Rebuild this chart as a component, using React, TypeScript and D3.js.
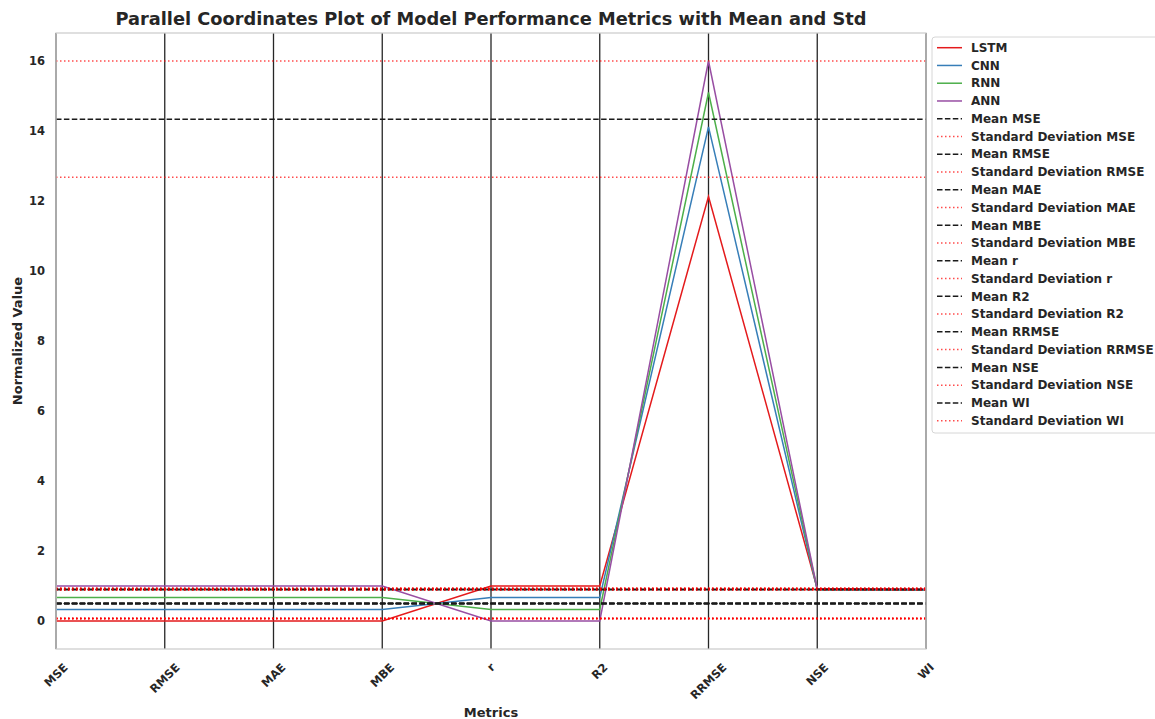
import { useEffect, useRef } from 'react';
import * as d3 from 'd3';

// metric names along x
const metrics = ['MSE', 'RMSE', 'MAE', 'MBE', 'r', 'R2', 'RRMSE', 'NSE', 'WI'];
const models = ['LSTM', 'CNN', 'RNN', 'ANN'];
const modelColors = ['#e41a1c', '#377eb8', '#4daf4a', '#984ea3'];

// normalized values per model (one per metric)
const lstmValues = [0, 0, 0, 0, 1, 1, 12.13, 0.93, 0.91];
const cnnValues = [0.33, 0.33, 0.33, 0.33, 0.67, 0.67, 14.12, 0.89, 0.88];
const rnnValues = [0.67, 0.67, 0.67, 0.67, 0.33, 0.33, 15.1, 0.9, 0.89];
const annValues = [1, 1, 1, 1, 0, 0, 16.0, 0.91, 0.9];

const yTicks = [0, 2, 4, 6, 8, 10, 12, 14, 16];

const W = 1155;
const H = 719;
const font = 'DejaVu Sans, sans-serif';
const textColor = '#262626';

export default function App() {
  const svgRef = useRef<SVGSVGElement>(null);

  useEffect(() => {
    if (!svgRef.current) return;
    const svg = d3.select(svgRef.current);
    svg.selectAll('*').remove();

    const margin = { top: 33, right: 229, bottom: 70, left: 56 };
    const plotW = W - margin.left - margin.right;
    const plotH = H - margin.top - margin.bottom;

    const series = [lstmValues, cnnValues, rnnValues, annValues];

    // mean and sample std for each metric
    const stats = metrics.map((m, i) => {
      const col = series.map(s => s[i]);
      return { name: m, mean: d3.mean(col) || 0, std: d3.deviation(col) || 0 };
    });

    const x = d3.scalePoint<string>().domain(metrics).range([0, plotW]);
    const y = d3.scaleLinear().domain([-0.8, 16.8]).range([plotH, 0]);

    svg.append('rect').attr('width', W).attr('height', H).attr('fill', '#ffffff');

    const g = svg.append('g').attr('transform', `translate(${margin.left},${margin.top})`);

    // vertical axis lines
    g.selectAll('.vline')
      .data(metrics)
      .enter()
      .append('line')
      .attr('x1', d => x(d) || 0)
      .attr('x2', d => x(d) || 0)
      .attr('y1', 0)
      .attr('y2', plotH)
      .attr('stroke', '#262626')
      .attr('stroke-width', 1.3);

    // model lines
    const line = d3.line<number>()
      .x((d, i) => x(metrics[i]) || 0)
      .y(d => y(d));

    series.forEach((s, k) => {
      g.append('path')
        .datum(s)
        .attr('fill', 'none')
        .attr('stroke', modelColors[k])
        .attr('stroke-width', 1.5)
        .attr('d', line);
    });

    // mean / std reference lines
    stats.forEach(st => {
      g.append('line')
        .attr('x1', 0).attr('x2', plotW)
        .attr('y1', y(st.mean)).attr('y2', y(st.mean))
        .attr('stroke', '#1a1a1a')
        .attr('stroke-width', 1.5)
        .attr('stroke-dasharray', '5.5,2.4');
      [st.mean + st.std, st.mean - st.std].forEach(v => {
        g.append('line')
          .attr('x1', 0).attr('x2', plotW)
          .attr('y1', y(v)).attr('y2', y(v))
          .attr('stroke', '#ff0000')
          .attr('stroke-opacity', 0.7)
          .attr('stroke-width', 1.5)
          .attr('stroke-dasharray', '1.5,2.5');
      });
    });

    // spines
    g.append('rect')
      .attr('width', plotW)
      .attr('height', plotH)
      .attr('fill', 'none')
      .attr('stroke', '#cccccc')
      .attr('stroke-width', 1.25);

    // y tick labels
    g.selectAll('.ytick')
      .data(yTicks)
      .enter()
      .append('text')
      .attr('x', -11)
      .attr('y', d => y(d))
      .attr('dy', '0.35em')
      .attr('text-anchor', 'end')
      .style('font-family', font)
      .style('font-size', '11.5px')
      .style('font-weight', 'bold')
      .style('fill', textColor)
      .text(d => d);

    // x tick labels, rotated 45 deg, centered under tick
    const labelTop = plotH + 13;
    metrics.forEach(m => {
      const t = g.append('text')
        .attr('text-anchor', 'middle')
        .attr('dominant-baseline', 'central')
        .style('font-family', font)
        .style('font-size', '11.5px')
        .style('font-weight', 'bold')
        .style('fill', textColor)
        .text(m);
      const w = (t.node() as SVGTextElement).getComputedTextLength();
      const h = 11.5 * 0.8;
      const cy = labelTop + (w + h) * Math.SQRT1_2 / 2;
      const cx = x(m) || 0;
      t.attr('x', cx).attr('y', cy).attr('transform', `rotate(-45,${cx},${cy})`);
    });

    // axis titles
    g.append('text')
      .attr('x', plotW / 2)
      .attr('y', plotH + 63)
      .attr('dy', '0.35em')
      .attr('text-anchor', 'middle')
      .style('font-family', font)
      .style('font-size', '13px')
      .style('font-weight', 'bold')
      .style('fill', textColor)
      .text('Metrics');

    g.append('text')
      .attr('transform', `translate(${-39},${plotH / 2}) rotate(-90)`)
      .attr('dy', '0.35em')
      .attr('text-anchor', 'middle')
      .style('font-family', font)
      .style('font-size', '13px')
      .style('font-weight', 'bold')
      .style('fill', textColor)
      .text('Normalized Value');

    // title
    svg.append('text')
      .attr('x', margin.left + plotW / 2)
      .attr('y', 25)
      .attr('text-anchor', 'middle')
      .style('font-family', font)
      .style('font-size', '17.8px')
      .style('font-weight', 'bold')
      .style('fill', textColor)
      .text('Parallel Coordinates Plot of Model Performance Metrics with Mean and Std');

    // legend
    type Entry = { label: string; color: string; dash: string | null; opacity: number };
    const entries: Entry[] = models.map((m, k) => ({ label: m, color: modelColors[k], dash: null, opacity: 1 }));
    metrics.forEach(m => {
      entries.push({ label: `Mean ${m}`, color: '#1a1a1a', dash: '5.5,2.4', opacity: 1 });
      entries.push({ label: `Standard Deviation ${m}`, color: '#ff0000', dash: '1.5,2.5', opacity: 0.7 });
    });

    const lg = svg.append('g').attr('transform', 'translate(932,37)');
    const rowH = 17.76;
    lg.append('rect')
      .attr('x', 0).attr('y', 0)
      .attr('width', 240)
      .attr('height', 396)
      .attr('rx', 3)
      .attr('fill', '#ffffff')
      .attr('stroke', '#d6d6d6')
      .attr('stroke-width', 1);

    entries.forEach((e, i) => {
      const cy = 10.7 + i * rowH;
      lg.append('line')
        .attr('x1', 5).attr('x2', 30)
        .attr('y1', cy).attr('y2', cy)
        .attr('stroke', e.color)
        .attr('stroke-opacity', e.opacity)
        .attr('stroke-width', 1.5)
        .attr('stroke-dasharray', e.dash);
      lg.append('text')
        .attr('x', 39)
        .attr('y', cy)
        .attr('dy', '0.35em')
        .style('font-family', font)
        .style('font-size', '12px')
        .style('font-weight', 'bold')
        .style('fill', textColor)
        .text(e.label);
    });
  }, []);

  return (
    <svg
      ref={svgRef}
      width={W}
      height={H}
      style={{ position: 'absolute', left: 0, top: 0 }}
    />
  );
}
